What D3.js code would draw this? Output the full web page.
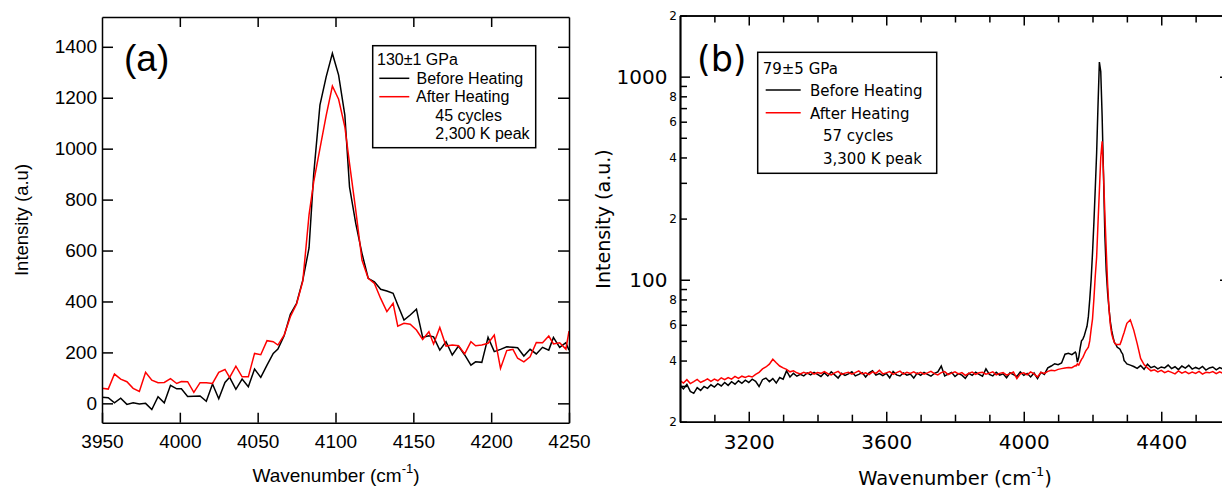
<!DOCTYPE html>
<html>
<head>
<meta charset="utf-8">
<script src="https://cdn.jsdelivr.net/npm/d3@7"></script>
<style>
  body { margin: 0; background: #fff; }
  svg { display: block; }
</style>
</head>
<body>
<svg id="chart" width="1222" height="490"></svg>
<script>
////////////////////////////////////////////////////////////////
// Panel (a) data: 130±1 GPa
////////////////////////////////////////////////////////////////
var aWave = [
  3950, 3954, 3958, 3962, 3966, 3970, 3974, 3978, 3982, 3986,
  3990, 3994, 3998, 4001, 4005, 4009, 4013, 4017, 4021, 4025,
  4029, 4032, 4036, 4040, 4044, 4048, 4052, 4056, 4060, 4063,
  4067, 4071, 4075, 4079, 4083, 4086, 4090, 4094, 4098, 4102,
  4106, 4109, 4113, 4117, 4121, 4125, 4129, 4133, 4137, 4140,
  4144, 4148, 4152, 4156, 4160, 4163, 4167, 4171, 4175, 4179,
  4183, 4187, 4190, 4194, 4198, 4202, 4206, 4210, 4214, 4217,
  4221, 4225, 4229, 4233, 4237, 4240, 4244, 4248, 4250];
var aBefore = [
  24, 22, 2, 20, -4, 2, -3, 0, -24, 26,
  2, 71, 57, 57, 27, 28, 29, 8, 76, 18,
  82, 102, 55, 95, 65, 135, 102, 150, 196, 213,
  265, 350, 393, 484, 610, 900, 1171, 1282, 1374, 1289,
  1132, 850, 707, 589, 491, 477, 448, 441, 432, 386,
  327, 347, 370, 259, 265, 261, 209, 242, 190, 225,
  190, 150, 163, 161, 259, 203, 212, 222, 220, 218,
  186, 212, 194, 220, 209, 259, 220, 238, 209];
var aAfter = [
  59, 56, 115, 95, 85, 59, 47, 122, 91, 81,
  82, 97, 78, 86, 85, 43, 81, 81, 78, 122,
  133, 102, 146, 104, 104, 196, 191, 246, 242, 229,
  268, 340, 390, 480, 740, 870, 1000, 1130, 1246, 1194,
  1086, 942, 759, 563, 491, 471, 412, 360, 393, 303,
  314, 311, 288, 251, 281, 233, 298, 225, 229, 226,
  194, 242, 226, 229, 236, 268, 137, 207, 212, 177,
  163, 183, 239, 238, 264, 233, 238, 213, 284];
var aYTicks = [0, 200, 400, 600, 800, 1000, 1200, 1400];
var aXTicks = [3950, 4000, 4050, 4100, 4150, 4200, 4250];
var aLegend = ["130\u00b11 GPa", "Before Heating", "After Heating", "45 cycles", "2,300 K peak"];

////////////////////////////////////////////////////////////////
// Panel (b) data: 79±5 GPa (log intensity)
////////////////////////////////////////////////////////////////
// sampling grid: coarse on the baseline, finer across the H2 vibron
var bWave = d3.range(3000, 4151, 10)
  .concat(d3.range(4152, 4301, 4))
  .concat(d3.range(4310, 4601, 10));
var bBefore = [
  30.2, 29.0, 30.5, 28.2, 27.6, 29.4, 28.5, 29.8, 29.2, 30.4,
  29.6, 30.8, 30.0, 31.2, 30.2, 31.5, 30.6, 31.8, 30.9, 32.0,
  31.2, 32.4, 31.6, 29.8, 32.2, 32.8, 31.5, 32.6, 31.0, 33.0,
  32.4, 35.6, 33.2, 34.6, 33.5, 34.2, 33.6, 34.8, 34.0, 35.0,
  34.2, 33.4, 34.8, 33.6, 35.2, 34.0, 32.8, 34.6, 33.8, 34.4,
  35.2, 33.6, 34.2, 34.9, 33.2, 34.8, 35.6, 33.9, 34.5, 33.7,
  34.6, 32.9, 35.3, 34.0, 33.6, 34.8, 33.9, 34.3, 32.8, 34.7,
  33.8, 35.0, 34.2, 33.5, 34.6, 35.2, 37.6, 33.6, 34.3, 35.0,
  33.4, 34.5, 33.9, 32.7, 34.6, 33.8, 35.1, 34.2, 33.5, 36.4,
  34.2, 33.6, 35.0, 33.9, 34.4, 32.9, 34.8, 34.1, 33.4, 35.2,
  33.8, 34.6, 33.2, 34.7, 32.6, 35.0, 34.2, 36.8, 37.6, 38.6,
  38.2, 38.9, 43.0, 43.4, 42.8, 44.0,
  43.5, 39.3, 41.5, 46, 50, 51, 53, 56, 59, 66,
  80, 100, 135, 190, 280, 420, 720, 1180, 1060, 640,
  330, 165, 110, 86, 72, 62, 56, 52, 49, 48,
  46.5, 46, 45.5, 44, 43, 40, 39.3, 38.5,
  38.0, 37.4, 36.6, 37.8, 36.2, 38.4, 36.9, 37.5, 36.4, 37.2,
  36.8, 38.0, 36.5, 37.3, 36.1, 37.6, 36.7, 37.9, 36.3, 37.0,
  36.4, 37.4, 35.9, 36.8, 37.2, 36.0, 36.9, 36.3, 37.1, 36.5];
var bAfter = [
  31.9, 31.0, 32.2, 30.8, 31.5, 32.3, 31.2, 31.8, 32.5, 31.6,
  32.4, 31.8, 32.9, 32.2, 33.0, 32.4, 33.4, 32.7, 33.5, 33.0,
  33.6, 33.2, 34.2, 35.0, 36.4, 37.2, 38.4, 40.6, 39.0, 37.6,
  36.8, 36.2, 35.2, 35.6, 34.8, 34.4, 35.0, 34.5, 35.2, 34.3,
  34.9, 34.6, 35.3, 34.5, 34.0, 34.8, 35.4, 34.2, 34.7, 35.0,
  34.3, 34.9, 35.6, 34.4, 34.8, 34.1, 35.2, 34.6, 35.8, 34.4,
  34.8, 35.3, 34.2, 34.9, 35.5, 34.3, 35.0, 34.6, 35.2, 34.4,
  35.0, 34.3, 34.8, 35.4, 34.5, 34.0, 34.9, 35.3, 34.1, 34.7,
  35.2, 34.4, 34.9, 33.8, 34.6, 35.1, 34.2, 34.8, 35.0, 34.3,
  34.7, 35.2, 34.0, 34.6, 34.9, 33.9, 34.5, 35.1, 32.6, 34.4,
  34.8, 34.0, 35.2, 34.4, 33.2, 35.0, 34.6, 35.4, 35.8, 35.6,
  36.2, 36.5, 36.8, 37.0, 36.9, 37.8,
  37.6, 38.5, 38.0, 39.3, 40.5, 41.5, 43, 44.5, 45.5, 46.6,
  50, 57, 64, 80, 104, 129, 190, 275, 400, 480,
  330, 210, 140, 95, 72, 60, 54, 51, 49, 48,
  48, 48, 48, 50, 52.5, 55, 58, 61,
  63.5, 56.5, 48.5, 41.0, 38.2, 36.8, 35.6, 36.0, 35.2, 35.8,
  34.9, 35.5, 35.0, 34.4, 35.6, 34.7, 35.3, 34.5, 35.1, 34.6,
  35.4, 34.3, 35.0, 34.8, 35.3, 34.5, 35.2, 34.6, 35.0, 34.7];
var bXMajor = [3200, 3600, 4000, 4400];
var bXMinor = [3100, 3300, 3400, 3500, 3700, 3800, 3900, 4100, 4200, 4300, 4500];
var bYMajor = [100, 1000];
var bYMinorLabeled = [20, 40, 60, 80, 200, 400, 600, 800, 2000];
var bYMinorPlain = [30, 50, 70, 90, 300, 500, 700, 900];
var bLegend = ["79\u00b15 GPa", "Before Heating", "After Heating", "57 cycles", "3,300 K peak"];

var svg = d3.select("#chart");
var fontA = "'Liberation Sans', Arial, sans-serif";
var fontB = "'DejaVu Sans', Verdana, sans-serif";

function styleAxis(g, family, size) {
  g.select(".domain").attr("stroke", "#000").attr("stroke-width", 1.5);
  g.selectAll(".tick line").attr("stroke", "#000").attr("stroke-width", 1.5);
  g.selectAll(".tick text").attr("fill", "#000")
    .style("font-family", family).style("font-size", size + "px");
}

////////////////////////////////////////////////////////////////
// Panel (a)
////////////////////////////////////////////////////////////////
var ax = d3.scaleLinear().domain([3950, 4250]).range([102, 569]);
var ay = d3.scaleLinear().domain([-76, 1517]).range([422.7, 17]);

var gA = svg.append("g").attr("id", "panelA");
gA.append("clipPath").attr("id", "clipA").append("rect")
  .attr("x", 102).attr("y", 17).attr("width", 467).attr("height", 405.7);

var lineA = d3.line().x(d => ax(d[0])).y(d => ay(d[1]));
gA.append("path").datum(d3.zip(aWave, aBefore))
  .attr("clip-path", "url(#clipA)")
  .attr("d", lineA).attr("fill", "none").attr("stroke", "#000").attr("stroke-width", 1.5);
gA.append("path").datum(d3.zip(aWave, aAfter))
  .attr("clip-path", "url(#clipA)")
  .attr("d", lineA).attr("fill", "none").attr("stroke", "#ff0000").attr("stroke-width", 1.5);

gA.append("g").attr("transform", "translate(0,422.7)")
  .call(d3.axisBottom(ax).tickValues(aXTicks).tickFormat(d3.format("d"))
    .tickSizeInner(-10).tickSizeOuter(0).tickPadding(12))
  .call(g => styleAxis(g, fontA, 19));
gA.append("g").attr("transform", "translate(0,17)")
  .call(d3.axisTop(ax).tickValues(aXTicks.slice(1, -1)).tickFormat("")
    .tickSizeInner(-10).tickSizeOuter(0))
  .call(g => styleAxis(g, fontA, 19));
gA.append("g").attr("transform", "translate(102,0)")
  .call(d3.axisLeft(ay).tickValues(aYTicks).tickFormat(d3.format("d"))
    .tickSizeInner(-11).tickSizeOuter(0).tickPadding(5))
  .call(g => styleAxis(g, fontA, 19));
gA.append("g").attr("transform", "translate(569,0)")
  .call(d3.axisRight(ay).tickValues(aYTicks).tickFormat("")
    .tickSizeInner(-11).tickSizeOuter(0))
  .call(g => styleAxis(g, fontA, 19));

gA.append("text").text("(a)")
  .attr("x", 124).attr("y", 71)
  .style("font-family", fontA).style("font-size", "37px").attr("fill", "#000");

gA.append("text")
  .attr("transform", "translate(28,220)rotate(-90)")
  .attr("text-anchor", "middle")
  .style("font-family", fontA).style("font-size", "18.5px")
  .text("Intensity (a.u)");

var xLabA = gA.append("text")
  .attr("x", 336).attr("y", 482).attr("text-anchor", "middle")
  .style("font-family", fontA).style("font-size", "19px");
xLabA.append("tspan").text("Wavenumber (cm");
xLabA.append("tspan").text("-1").style("font-size", "13px").attr("dy", -9);
xLabA.append("tspan").text(")").attr("dy", 9);

// legend (a)
var legA = gA.append("g");
legA.append("rect").attr("x", 372.7).attr("y", 45.7).attr("width", 163).attr("height", 102)
  .attr("fill", "#fff").attr("stroke", "#000").attr("stroke-width", 1.5);
var legAx = [377, 416.5, 416, 435.3, 435.3];
legA.selectAll("text").data(aLegend).enter().append("text")
  .attr("x", (d, i) => legAx[i])
  .attr("y", (d, i) => 65 + i * 18.6)
  .style("font-family", fontA).style("font-size", "16px")
  .text(d => d);
legA.append("line").attr("x1", 379.3).attr("x2", 409.3).attr("y1", 78.3).attr("y2", 78.3)
  .attr("stroke", "#000").attr("stroke-width", 1.5);
legA.append("line").attr("x1", 379.3).attr("x2", 409.3).attr("y1", 96.7).attr("y2", 96.7)
  .attr("stroke", "#ff0000").attr("stroke-width", 1.5);

////////////////////////////////////////////////////////////////
// Panel (b)
////////////////////////////////////////////////////////////////
var bx = d3.scaleLinear().domain([3000, 4600]).range([680, 1230]);
var by = d3.scaleLog().domain([20, 2000]).range([421.7, 15.5]);

var gB = svg.append("g").attr("id", "panelB");
gB.append("clipPath").attr("id", "clipB").append("rect")
  .attr("x", 680).attr("y", 15.5).attr("width", 550).attr("height", 406.2);

var lineB = d3.line().x(d => bx(d[0])).y(d => by(d[1]));
gB.append("path").datum(d3.zip(bWave, bBefore))
  .attr("clip-path", "url(#clipB)")
  .attr("d", lineB).attr("fill", "none").attr("stroke", "#000").attr("stroke-width", 1.5);
gB.append("path").datum(d3.zip(bWave, bAfter))
  .attr("clip-path", "url(#clipB)")
  .attr("d", lineB).attr("fill", "none").attr("stroke", "#ff0000").attr("stroke-width", 1.5);

// bottom axis
gB.append("g").attr("transform", "translate(0,421.7)")
  .call(d3.axisBottom(bx).tickValues(bXMajor).tickFormat(d3.format("d"))
    .tickSizeInner(-10).tickSizeOuter(0).tickPadding(13))
  .call(g => styleAxis(g, fontB, 20));
gB.append("g").attr("transform", "translate(0,421.7)")
  .call(d3.axisBottom(bx).tickValues(bXMinor).tickFormat("")
    .tickSizeInner(-7).tickSizeOuter(0))
  .call(g => styleAxis(g, fontB, 20));
// top axis
gB.append("g").attr("transform", "translate(0,15.5)")
  .call(d3.axisTop(bx).tickValues(bXMajor).tickFormat("")
    .tickSizeInner(-10).tickSizeOuter(0))
  .call(g => styleAxis(g, fontB, 20));
gB.append("g").attr("transform", "translate(0,15.5)")
  .call(d3.axisTop(bx).tickValues(bXMinor).tickFormat("")
    .tickSizeInner(-7).tickSizeOuter(0))
  .call(g => styleAxis(g, fontB, 20));
// left axis
gB.append("g").attr("transform", "translate(680,0)")
  .call(d3.axisLeft(by).tickValues(bYMajor).tickFormat(d3.format("d"))
    .tickSizeInner(-10).tickSizeOuter(0).tickPadding(12.5))
  .call(g => styleAxis(g, fontB, 20));
gB.append("g").attr("transform", "translate(680,0)")
  .call(d3.axisLeft(by).tickValues(bYMinorLabeled).tickFormat(d => String(d).charAt(0))
    .tickSizeInner(-7).tickSizeOuter(0).tickPadding(3))
  .call(g => styleAxis(g, fontB, 12));
gB.append("g").attr("transform", "translate(680,0)")
  .call(d3.axisLeft(by).tickValues(bYMinorPlain).tickFormat("")
    .tickSizeInner(-7).tickSizeOuter(0))
  .call(g => styleAxis(g, fontB, 12));
// right axis
gB.append("g").attr("transform", "translate(1230,0)")
  .call(d3.axisRight(by).tickValues(bYMajor).tickFormat("")
    .tickSizeInner(-10).tickSizeOuter(0))
  .call(g => styleAxis(g, fontB, 12));
gB.append("g").attr("transform", "translate(1230,0)")
  .call(d3.axisRight(by).tickValues(bYMinorLabeled.concat(bYMinorPlain)).tickFormat("")
    .tickSizeInner(-7).tickSizeOuter(0))
  .call(g => styleAxis(g, fontB, 12));

gB.append("text").text("(b)")
  .attr("x", 697).attr("y", 71)
  .style("font-family", fontB).style("font-size", "35px").attr("fill", "#000");

gB.append("text")
  .attr("transform", "translate(610,219)rotate(-90)")
  .attr("text-anchor", "middle")
  .style("font-family", fontB).style("font-size", "19px")
  .text("Intensity (a.u.)");

var xLabB = gB.append("text")
  .attr("x", 955).attr("y", 485).attr("text-anchor", "middle")
  .style("font-family", fontB).style("font-size", "19.5px");
xLabB.append("tspan").text("Wavenumber (cm");
xLabB.append("tspan").text("-1").style("font-size", "13px").attr("dy", -9);
xLabB.append("tspan").text(")").attr("dy", 9);

// legend (b)
var legB = gB.append("g");
legB.append("rect").attr("x", 757.7).attr("y", 52.3).attr("width", 179).attr("height", 121)
  .attr("fill", "#fff").attr("stroke", "#000").attr("stroke-width", 1.5);
var legBx = [762.7, 810, 810, 823, 823];
legB.selectAll("text").data(bLegend).enter().append("text")
  .attr("x", (d, i) => legBx[i])
  .attr("y", (d, i) => 73.5 + i * 22.5)
  .style("font-family", fontB).style("font-size", "15px")
  .text(d => d);
legB.append("line").attr("x1", 765.7).attr("x2", 800.7).attr("y1", 90).attr("y2", 90)
  .attr("stroke", "#000").attr("stroke-width", 1.5);
legB.append("line").attr("x1", 765.7).attr("x2", 800.7).attr("y1", 112.7).attr("y2", 112.7)
  .attr("stroke", "#ff0000").attr("stroke-width", 1.5);
</script>
</body>
</html>
